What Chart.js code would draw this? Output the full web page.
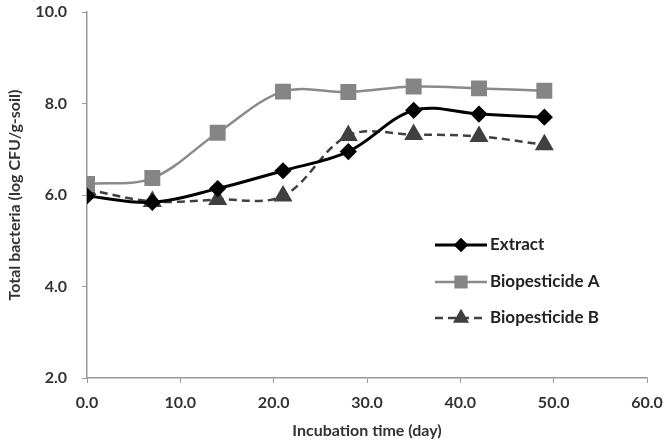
<!DOCTYPE html>
<html>
<head>
<meta charset="utf-8">
<script src="https://cdn.jsdelivr.net/npm/chart.js@4/dist/chart.umd.min.js"></script>
<style>
    html, body { margin: 0; padding: 0; background: #ffffff; }
    #wrap { width: 664px; height: 441px; }
</style>
</head>
<body>
<div id="wrap"><canvas id="bacteriaChart" width="664" height="441"></canvas></div>
<script>
const days = [0, 7, 14, 21, 28, 35, 42, 49];
const extract = [5.98, 5.84, 6.14, 6.53, 6.95, 7.85, 7.77, 7.70];
const biopestA = [6.24, 6.37, 7.36, 8.26, 8.25, 8.37, 8.33, 8.28];
const biopestB = [6.12, 5.86, 5.90, 5.98, 7.30, 7.32, 7.28, 7.10];
const seriesNames = ['Extract', 'Biopesticide A', 'Biopesticide B'];

const xTitle = 'Incubation time (day)';
const yTitle = 'Total bacteria (log CFU/g-soil)';

Chart.defaults.font.family = 'Lato, "Open Sans", sans-serif';
Chart.defaults.color = '#333333';

function pts(ys) {
    return days.map((d, i) => ({ x: d, y: ys[i] }));
}

// legend drawn inside the plot, like the excel one
const insideLegend = {
    id: 'insideLegend',
    afterDraw(chart) {
        const ctx = chart.ctx;
        const x0 = 435, lineLen = 52, rowY = [245, 282, 318];
        chart.data.datasets.forEach((ds, i) => {
            const y = rowY[i];
            ctx.save();
            ctx.strokeStyle = ds.borderColor;
            ctx.lineWidth = ds.borderWidth;
            ctx.setLineDash(ds.borderDash || []);
            ctx.beginPath();
            ctx.moveTo(x0, y);
            ctx.lineTo(x0 + lineLen, y);
            ctx.stroke();
            ctx.setLineDash([]);
            ctx.fillStyle = ds.pointBackgroundColor;
            ctx.strokeStyle = ds.pointBorderColor;
            Chart.helpers.drawPoint(ctx, {
                pointStyle: ds.pointStyle,
                radius: ds.pointRadius * 0.8,
                borderWidth: 1
            }, x0 + lineLen / 2, y);
            ctx.fillStyle = '#222222';
            ctx.font = 'bold 17px Lato, "Open Sans", sans-serif';
            ctx.textBaseline = 'middle';
            ctx.fillText(ds.label, x0 + lineLen + 3, y);
            ctx.restore();
        });
    }
};

const config = {
    type: 'line',
    data: {
        datasets: [{
            label: seriesNames[0],
            data: pts(extract),
            borderColor: '#000000',
            backgroundColor: '#000000',
            pointBackgroundColor: '#000000',
            pointBorderColor: '#000000',
            borderWidth: 3,
            pointStyle: 'rectRot',
            pointRadius: 6.5,
            tension: 0.35
        }, {
            label: seriesNames[1],
            data: pts(biopestA),
            borderColor: '#8a8a8a',
            backgroundColor: '#858585',
            pointBackgroundColor: '#858585',
            pointBorderColor: '#858585',
            borderWidth: 2.5,
            pointStyle: 'rect',
            pointRadius: 9.5,
            tension: 0.35
        }, {
            label: seriesNames[2],
            data: pts(biopestB),
            borderColor: '#404040',
            backgroundColor: '#404040',
            pointBackgroundColor: '#404040',
            pointBorderColor: '#404040',
            borderWidth: 2.5,
            borderDash: [8, 5],
            pointStyle: 'triangle',
            pointRadius: 8.5,
            tension: 0.35
        }]
    },
    options: {
        responsive: false,
        animation: false,
        layout: { padding: 0 },
        plugins: {
            legend: { display: false },
            tooltip: { enabled: false }
        },
        scales: {
            x: {
                type: 'linear',
                min: 0,
                max: 60,
                afterFit: s => { s.height = 63; s.paddingLeft = 0; s.paddingRight = 17; },
                ticks: {
                    stepSize: 10,
                    padding: 10,
                    font: { size: 16, weight: 'bold' },
                    callback: v => v.toFixed(1)
                },
                grid: { drawOnChartArea: false, tickLength: 5, color: '#999999' },
                border: { color: '#999999', width: 1.5 },
                title: { display: true, text: xTitle, font: { size: 16, weight: 'bold' }, padding: { top: 6, bottom: 1 } }
            },
            y: {
                min: 2,
                max: 10,
                afterFit: s => { s.width = 87; s.paddingTop = 6; s.paddingBottom = 0; },
                ticks: {
                    stepSize: 2,
                    padding: 15,
                    font: { size: 16, weight: 'bold' },
                    callback: v => v.toFixed(1)
                },
                grid: { drawOnChartArea: false, tickLength: 5, color: '#999999' },
                border: { color: '#999999', width: 1.5 },
                title: { display: true, text: yTitle, font: { size: 16, weight: 'bold' }, padding: { top: 5, bottom: 8 } }
            }
        }
    },
    plugins: [insideLegend]
};

const bacteriaChart = new Chart(document.getElementById('bacteriaChart'), config);
</script>
</body>
</html>
